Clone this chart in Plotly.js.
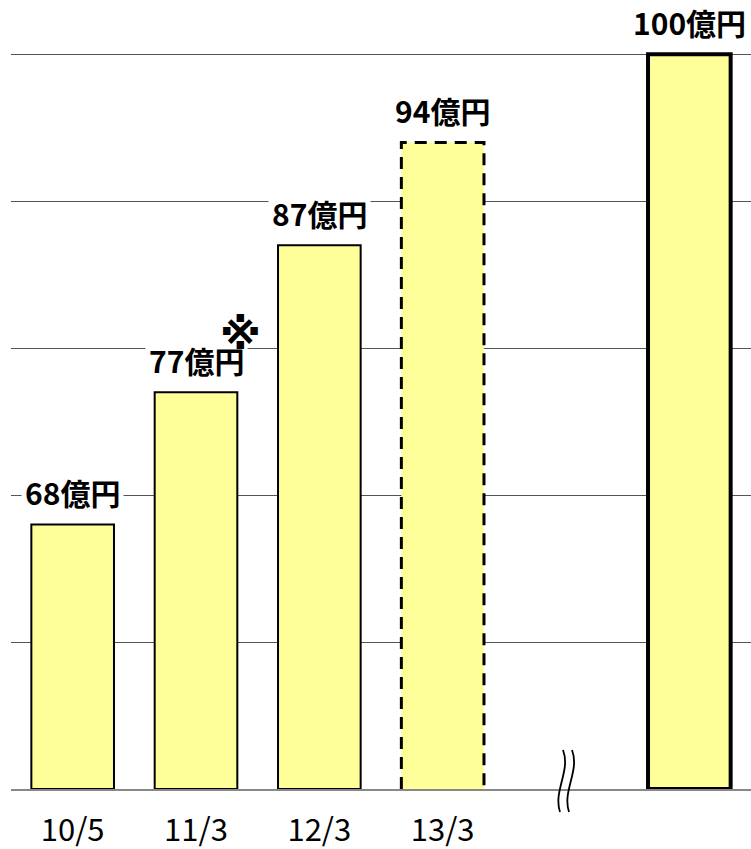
<!DOCTYPE html>
<html>
<head>
<meta charset="utf-8">
<script src="https://cdn.plot.ly/plotly-3.0.1.min.js"></script>
<style>html,body{margin:0;padding:0;background:#fff;}#chart{width:751px;height:849px;}</style>
</head>
<body>
<div id="chart"></div>
<script>
// ---- data ----
const periods = ['10/5', '11/3', '12/3', '13/3', ''];
const values = [68, 77, 87, 94, 100];
const unit = '億円';
const noteMarkIndex = 1;      // bar carrying the ※ note
const dashedIndex = 3;        // forecast bar drawn with dashed outline
const breakAfter = 3;         // axis break inserted after this bar
const yTicks = [50, 60, 70, 80, 90, 100];

// ---- layout helpers ----
const xs = values.map((v, i) => i > breakAfter ? i + 1 : i);
const barWidth = 0.67;
const fill = '#ffff99';
const font = '"Noto Sans CJK JP", "Noto Sans", sans-serif';
const lineWidths = values.map((v, i) => i === dashedIndex ? 0 : (i === values.length - 1 ? 4 : 2));
const yMin = yTicks[0], yMax = yTicks[yTicks.length - 1] + 0.15;

const trace = {
  type: 'bar',
  x: xs,
  y: values.map(v => v - yMin),
  base: yMin,
  width: barWidth,
  marker: { color: fill, line: { color: '#000', width: lineWidths } },
  hoverinfo: 'skip',
  cliponaxis: false
};

const annotations = values.map((v, i) => ({
  x: xs[i], y: v, xref: 'x', yref: 'y',
  text: '<b>' + v + unit + '</b>',
  showarrow: false, yanchor: 'bottom', yshift: 6,
  bgcolor: '#fff', borderpad: 3,
  font: { family: font, size: 30, color: '#000' }
}));
annotations.push({
  x: xs[noteMarkIndex], y: values[noteMarkIndex], xref: 'x', yref: 'y',
  text: '<b>※</b>', showarrow: false, xanchor: 'center', yanchor: 'middle',
  xshift: 44, yshift: 58, font: { family: '"DejaVu Sans", sans-serif', size: 42, color: '#000' }
});

const x0 = xs[dashedIndex] - barWidth / 2, x1 = xs[dashedIndex] + barWidth / 2;
const shapes = [{
  type: 'path', xref: 'x', yref: 'y',
  path: `M${x0},${yMin} L${x0},${values[dashedIndex]} L${x1},${values[dashedIndex]} L${x1},${yMin}`,
  line: { color: '#000', width: 3, dash: '12px,8px' }
}];

// axis break mark (two wavy strokes) in paper coords
const plotW = 740, plotH = 737;
const breakX = (breakAfter + 1 + 0.5) / (values.length + 1);
function pp(dx, dy) { return (breakX + dx / plotW).toFixed(5) + ',' + (dy / plotH).toFixed(5); }
[-3, 6].forEach(off => {
  shapes.push({
    type: 'path', xref: 'paper', yref: 'paper',
    path: `M${pp(off, 39)} C${pp(off + 8, 18)} ${pp(off - 10, -2)} ${pp(off - 3, -23)}`,
    line: { color: '#000', width: 1.8 }
  });
});

const layout = {
  width: 751, height: 849,
  margin: { l: 11, r: 0, t: 52, b: 60 },
  paper_bgcolor: '#fff', plot_bgcolor: '#fff',
  showlegend: false,
  xaxis: {
    range: [-0.5, values.length + 0.5],
    tickvals: xs, ticktext: periods,
    showgrid: false, zeroline: false,
    showline: true, linecolor: '#888', linewidth: 2,
    ticks: '', ticklabelstandoff: 13,
    tickfont: { family: font, size: 31, color: '#000' },
    fixedrange: true
  },
  yaxis: {
    range: [yMin, yMax],
    tickvals: yTicks, showticklabels: false,
    showgrid: true, gridcolor: '#555', gridwidth: 1,
    zeroline: false, showline: false, fixedrange: true
  },
  annotations: annotations,
  shapes: shapes
};

Plotly.newPlot('chart', [trace], layout, { staticPlot: true });
</script>
</body>
</html>
